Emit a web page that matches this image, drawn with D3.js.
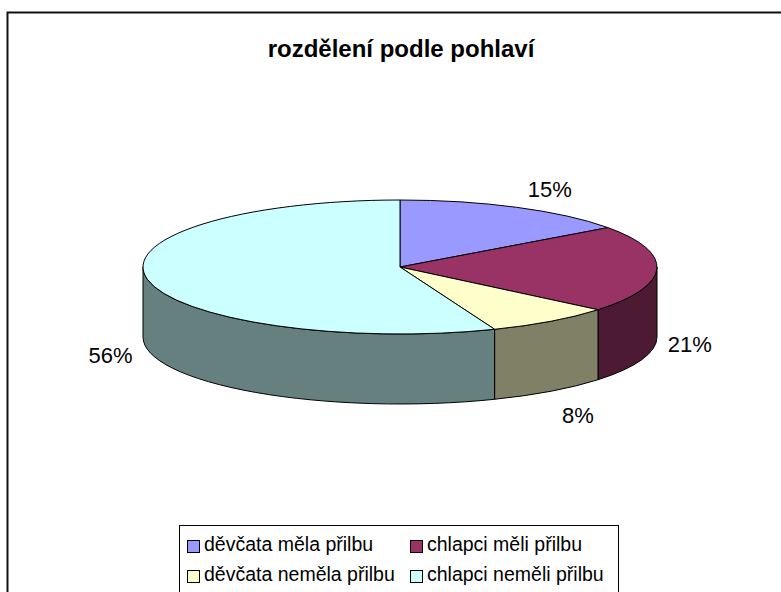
<!DOCTYPE html>
<html>
<head>
<meta charset="utf-8">
<script src="https://cdn.jsdelivr.net/npm/d3@7"></script>
<style>
  html, body { margin: 0; padding: 0; background: #fff; }
  svg { display: block; font-family: "Liberation Sans", Arial, sans-serif; }
</style>
</head>
<body>
<svg id="svg" width="781" height="592"></svg>
<script>
// --- Data ------------------------------------------------------------------
const title = "rozdělení podle pohlaví";
const categories = ["děvčata měla přilbu", "chlapci měli přilbu", "děvčata neměla přilbu", "chlapci neměli přilbu"];
const values = [15, 21, 8, 56];
const colors = ["#9999FF", "#993366", "#FFFFCC", "#CCFFFF"];

// --- Layout ----------------------------------------------------------------
const W = 781, H = 592;
const cx = 400, cy = 267;      // centre of the top face
const rx = 257, ry = 67;       // ellipse radii of the top face
const depth = 70;              // thickness of the pie

const svg = d3.select("#svg");

// chart frame (runs off the right and bottom of the picture)
svg.append("rect")
  .attr("x", 7.5).attr("y", 12.5)
  .attr("width", W + 20).attr("height", H + 20)
  .attr("fill", "#fff").attr("stroke", "#111").attr("stroke-width", 2);

svg.append("text")
  .attr("x", 401).attr("y", 57)
  .attr("text-anchor", "middle")
  .attr("font-weight", "bold").attr("font-size", 24)
  .text(title);

// --- Pie -------------------------------------------------------------------
const color = d3.scaleOrdinal().domain(categories).range(colors);
const shade = c => { const k = d3.rgb(c); return d3.rgb(k.r * 0.5, k.g * 0.5, k.b * 0.5).formatHex(); };

const arcs = d3.pie().sort(null).value(d => d)(values)
  .map((a, i) => ({ ...a, cat: categories[i] }));
const total = d3.sum(values);
const pct = d3.format(".0%");

const ex = a => cx + rx * Math.sin(a);
const ey = a => cy - ry * Math.cos(a);

function topPath(a0, a1) {
  const large = a1 - a0 > Math.PI ? 1 : 0;
  return `M${cx},${cy}L${ex(a0)},${ey(a0)}A${rx},${ry} 0 ${large} 1 ${ex(a1)},${ey(a1)}Z`;
}
function sidePath(a0, a1) {
  return `M${ex(a0)},${ey(a0)}A${rx},${ry} 0 0 1 ${ex(a1)},${ey(a1)}` +
    `L${ex(a1)},${ey(a1) + depth}A${rx},${ry} 0 0 0 ${ex(a0)},${ey(a0) + depth}Z`;
}

// only the front half of the rim is visible
const front = arcs
  .map(d => ({ ...d, s: Math.max(d.startAngle, Math.PI / 2), e: Math.min(d.endAngle, Math.PI * 1.5) }))
  .filter(d => d.e > d.s);

const pie = svg.append("g").attr("stroke", "#000").attr("stroke-width", 1).attr("stroke-linejoin", "round");

pie.selectAll("path.side")
  .data(front).enter()
  .append("path")
  .attr("class", "side")
  .attr("d", d => sidePath(d.s, d.e))
  .attr("fill", d => shade(color(d.cat)));

pie.selectAll("path.top")
  .data(arcs).enter()
  .append("path")
  .attr("class", "top")
  .attr("d", d => topPath(d.startAngle, d.endAngle))
  .attr("fill", d => color(d.cat));

// percentage labels just outside the rim, at the slice's mid angle
const pad = 9, cap = 16;
svg.append("g")
  .attr("font-size", 22)
  .selectAll("text")
  .data(arcs).enter()
  .append("text")
  .each(function (d) {
    const m = (d.startAngle + d.endAngle) / 2;
    const s = Math.sin(m), c = Math.cos(m);
    let x = ex(m), y = ey(m) + (c < 0 ? depth : 0);
    const anchor = s > 0.1 ? "start" : s < -0.1 ? "end" : "middle";
    x += s > 0.1 ? pad + 2 : s < -0.1 ? -pad - 6 : 0;
    if (c > 0.3) y = y - pad - 1;            // above the pie: baseline above point
    else if (c < -0.3) y = y + pad + cap + 7; // below: cap top under point
    else y = y + cap / 2 + 5;                // side: centred
    d3.select(this)
      .attr("x", x).attr("y", y)
      .attr("text-anchor", anchor)
      .text(pct(d.value / total));
  });

// --- Legend ----------------------------------------------------------------
const legend = svg.append("g");
legend.append("rect")
  .attr("x", 179.5).attr("y", 525.5)
  .attr("width", 439).attr("height", 100)
  .attr("fill", "#fff").attr("stroke", "#000").attr("stroke-width", 1);

const colX = [187, 410], rowY = [540, 570];
const item = legend.selectAll("g.item")
  .data(categories).enter()
  .append("g")
  .attr("class", "item")
  .attr("transform", (d, i) => `translate(${colX[i % 2]},${rowY[Math.floor(i / 2)]})`);

item.append("rect")
  .attr("x", 0.5).attr("y", 0.5)
  .attr("width", 12).attr("height", 12)
  .attr("fill", d => color(d))
  .attr("stroke", "#000");

item.append("text")
  .attr("x", 17).attr("y", 11)
  .attr("font-size", 19.5)
  .text(d => d);
</script>
</body>
</html>
